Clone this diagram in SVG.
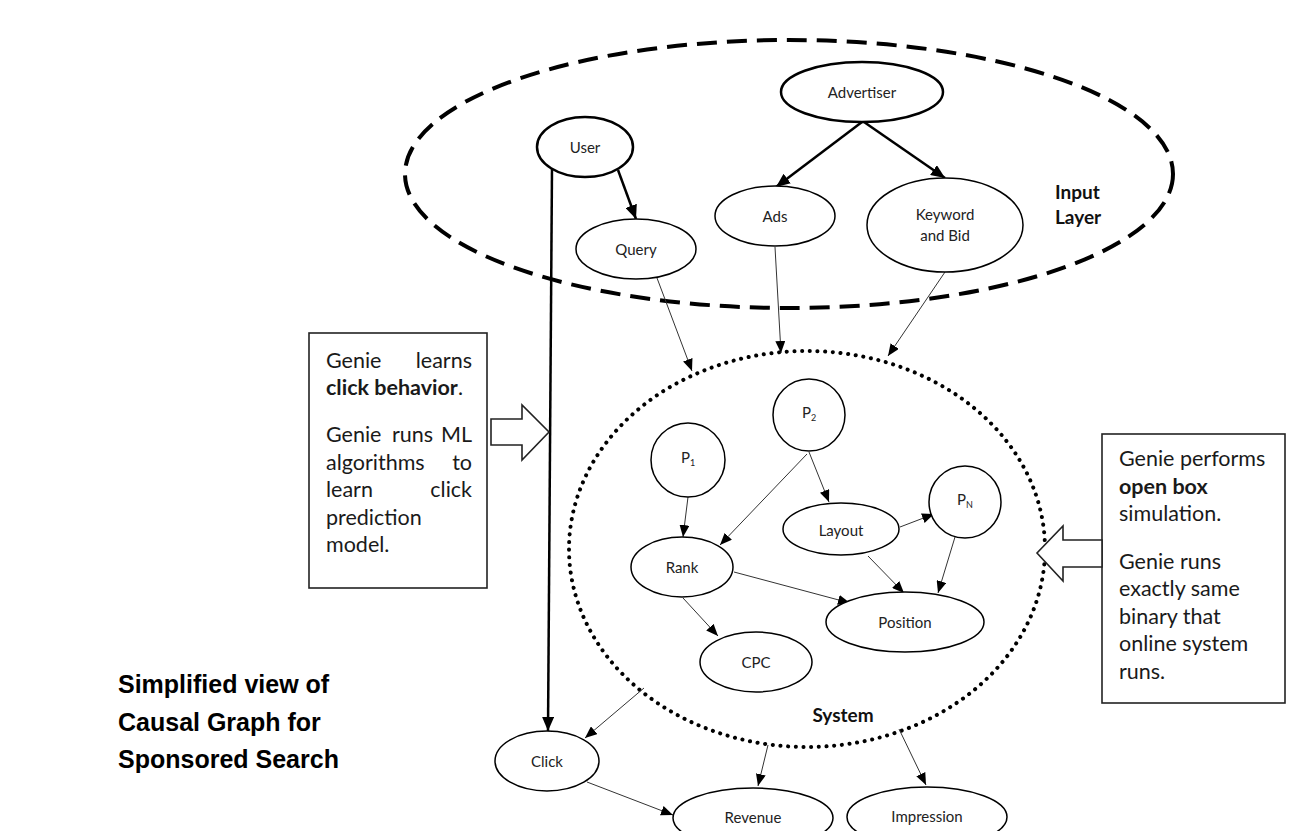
<svg xmlns="http://www.w3.org/2000/svg" width="1301" height="831" viewBox="0 0 1301 831">
  <style>
    .node { fill: #fff; stroke: #000; stroke-width: 1.5; }
    .node-strong { fill: #fff; stroke: #000; stroke-width: 2.5; }
    .lbl { font-family: Lato, "Open Sans", sans-serif; font-size: 15px; fill: #222; text-anchor: middle; dominant-baseline: central; }
    .sub { font-size: 9px; }
    .region-lbl { font-family: Lato, "Open Sans", sans-serif; font-size: 19px; font-weight: bold; fill: #111; }
    .note { font-family: Lato, "Open Sans", sans-serif; font-size: 21.5px; fill: #1a1a1a; }
    .bold { font-weight: bold; }
    .box { fill: #fff; stroke: #222; stroke-width: 1.6; }
    .thin { stroke: #333; stroke-width: 1; fill: none; marker-end: url(#ah); }
    .thick { stroke: #000; stroke-width: 2.5; fill: none; marker-end: url(#ahb); }
    .title { font-family: "Liberation Sans", Arial, sans-serif; font-size: 25px; font-weight: bold; fill: #000; }
  </style>
  <defs>
    <marker id="ah" viewBox="0 0 12 10" refX="12" refY="5" markerWidth="12" markerHeight="10" markerUnits="userSpaceOnUse" orient="auto">
      <path d="M0,0 L12,5 L0,10 z" fill="#000"/>
    </marker>
    <marker id="ahb" viewBox="0 0 14 12" refX="14" refY="6" markerWidth="14" markerHeight="12" markerUnits="userSpaceOnUse" orient="auto">
      <path d="M0,0 L14,6 L0,12 z" fill="#000"/>
    </marker>
  </defs>

  <rect width="1301" height="831" fill="#fff"/>

  <!-- Input layer boundary (dashed) -->
  <g id="input-layer">
    <ellipse cx="789" cy="174" rx="384" ry="134" fill="none" stroke="#000" stroke-width="4" stroke-dasharray="20 10"/>
    <text class="region-lbl" x="1055" y="199">Input</text>
    <text class="region-lbl" x="1055" y="224">Layer</text>
  </g>

  <!-- System boundary (dotted) -->
  <g id="system">
    <ellipse cx="807" cy="549" rx="238" ry="198" fill="none" stroke="#000" stroke-width="4" stroke-linecap="round" stroke-dasharray="0.1 7.6"/>
    <text class="region-lbl" x="843" y="722" text-anchor="middle">System</text>
  </g>

  <!-- Connectors -->
  <g id="connectors">
    <path class="thick" d="M618,170 L636,219"/>
    <path class="thick" d="M862,122 L776,187"/>
    <path class="thick" d="M864,122 L945,178"/>
    <path class="thick" d="M552,168 L548,731"/>
    <path class="thin" d="M657,278 L692,371"/>
    <path class="thin" d="M775,247 L781,353"/>
    <path class="thin" d="M945,272 L888,356"/>
    <path class="thin" d="M688,497 L683,537"/>
    <path class="thin" d="M809,452 L829,502"/>
    <path class="thin" d="M807,454 L720,545"/>
    <path class="thin" d="M900,527 L934,514"/>
    <path class="thin" d="M868,556 L904,593"/>
    <path class="thin" d="M955,537 L938,593"/>
    <path class="thin" d="M734,572 L850,603"/>
    <path class="thin" d="M683,598 L718,636"/>
    <path class="thin" d="M644,688 L585,738"/>
    <path class="thin" d="M768,745 L758,786"/>
    <path class="thin" d="M899,729 L926,785"/>
    <path class="thin" d="M587,782 L673,815"/>
  </g>

  <!-- Input layer nodes -->
  <g id="user">
    <ellipse class="node-strong" cx="585" cy="147" rx="48" ry="30"/>
    <text class="lbl" x="585" y="147">User</text>
  </g>
  <g id="advertiser">
    <ellipse class="node-strong" cx="862" cy="92" rx="81" ry="30"/>
    <text class="lbl" x="862" y="92">Advertiser</text>
  </g>
  <g id="query">
    <ellipse class="node" cx="636" cy="249" rx="60" ry="30"/>
    <text class="lbl" x="636" y="249">Query</text>
  </g>
  <g id="ads">
    <ellipse class="node" cx="775" cy="216" rx="60" ry="30"/>
    <text class="lbl" x="775" y="216">Ads</text>
  </g>
  <g id="keyword-bid">
    <ellipse class="node" cx="945" cy="225" rx="78" ry="47"/>
    <text class="lbl" x="945" y="214">Keyword</text>
    <text class="lbl" x="945" y="235">and Bid</text>
  </g>

  <!-- System nodes -->
  <g id="p1">
    <circle class="node" cx="688" cy="460" r="37"/>
    <text class="lbl" x="688" y="457">P<tspan class="sub" dy="5">1</tspan></text>
  </g>
  <g id="p2">
    <circle class="node" cx="809" cy="415" r="36"/>
    <text class="lbl" x="809" y="412">P<tspan class="sub" dy="5">2</tspan></text>
  </g>
  <g id="pn">
    <circle class="node" cx="965" cy="502" r="36"/>
    <text class="lbl" x="965" y="499">P<tspan class="sub" dy="5">N</tspan></text>
  </g>
  <g id="layout">
    <ellipse class="node" cx="841" cy="529" rx="58" ry="26"/>
    <text class="lbl" x="841" y="530">Layout</text>
  </g>
  <g id="rank">
    <ellipse class="node" cx="682" cy="567" rx="51" ry="30"/>
    <text class="lbl" x="682" y="567">Rank</text>
  </g>
  <g id="position">
    <ellipse class="node" cx="905" cy="622" rx="79" ry="30"/>
    <text class="lbl" x="905" y="622">Position</text>
  </g>
  <g id="cpc">
    <ellipse class="node" cx="756" cy="662" rx="56" ry="30"/>
    <text class="lbl" x="756" y="662">CPC</text>
  </g>

  <!-- Outcome nodes -->
  <g id="click">
    <ellipse class="node" cx="547" cy="761" rx="52" ry="30"/>
    <text class="lbl" x="547" y="761">Click</text>
  </g>
  <g id="revenue">
    <ellipse class="node" cx="753" cy="818" rx="80" ry="30"/>
    <text class="lbl" x="753" y="817">Revenue</text>
  </g>
  <g id="impression">
    <ellipse class="node" cx="927" cy="817" rx="80" ry="30"/>
    <text class="lbl" x="927" y="816">Impression</text>
  </g>

  <!-- Left note: learning click behaviour -->
  <g id="note-learn">
    <rect class="box" x="309" y="333" width="178" height="255"/>
    <text class="note" x="326" y="368">Genie</text>
    <text class="note" x="472" y="368" text-anchor="end">learns</text>
    <text class="note" x="326" y="395"><tspan class="bold">click behavior</tspan>.</text>
    <text class="note" x="326" y="442">Genie</text>
    <text class="note" x="392" y="442">runs</text>
    <text class="note" x="472" y="442" text-anchor="end">ML</text>
    <text class="note" x="326" y="470">algorithms</text>
    <text class="note" x="472" y="470" text-anchor="end">to</text>
    <text class="note" x="326" y="497">learn</text>
    <text class="note" x="472" y="497" text-anchor="end">click</text>
    <text class="note" x="326" y="525">prediction</text>
    <text class="note" x="326" y="552">model.</text>
    <path class="box" d="M491,419 L522,419 L522,405 L549,432 L522,460 L522,445 L491,445 z"/>
  </g>

  <!-- Right note: open box simulation -->
  <g id="note-simulate">
    <rect class="box" x="1102" y="434" width="183" height="269"/>
    <text class="note" x="1119" y="466">Genie performs</text>
    <text class="note bold" x="1119" y="494">open box</text>
    <text class="note" x="1119" y="521">simulation.</text>
    <text class="note" x="1119" y="569">Genie runs</text>
    <text class="note" x="1119" y="596">exactly same</text>
    <text class="note" x="1119" y="624">binary that</text>
    <text class="note" x="1119" y="651">online system</text>
    <text class="note" x="1119" y="679">runs.</text>
    <path class="box" d="M1102,540 L1063,540 L1063,526 L1037,553 L1063,581 L1063,567 L1102,567 z"/>
  </g>

  <!-- Caption -->
  <g id="caption">
    <text class="title" x="118" y="693">Simplified view of</text>
    <text class="title" x="118" y="731">Causal Graph for</text>
    <text class="title" x="118" y="768">Sponsored Search</text>
  </g>
</svg>
